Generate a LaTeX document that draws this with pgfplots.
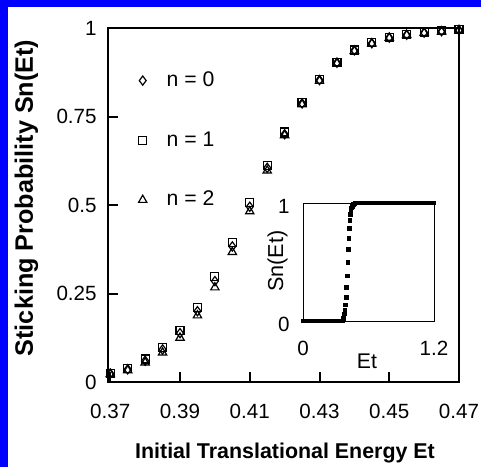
\documentclass[border=0pt]{standalone}
\usepackage{pgfplots}
\pgfplotsset{compat=1.18}
\usepackage{fontspec}
\setmainfont{Liberation Sans}
\begin{document}
\begin{tikzpicture}
\fill[white] (0,0) rectangle (240.5pt,233.5pt);
\fill[blue] (0,0) rectangle (4pt,233.5pt);
\fill[blue] (0,230pt) rectangle (240.5pt,233.5pt);
\begin{axis}[
  at={(54pt,42.5pt)}, anchor=south west, scale only axis,
  width=175.5pt, height=177pt,
  xmin=0.36935, xmax=0.47, ymin=0, ymax=1,
  xtick={0.37,0.39,0.41,0.43,0.45,0.47},
  xticklabels={0.37,0.39,0.41,0.43,0.45,0.47},
  ytick={0,0.25,0.5,0.75,1},
  yticklabels={0,0.25,0.5,0.75,1},
  tick align=inside, xtick pos=left, ytick pos=left,
  major tick length=5pt,
  every tick/.style={black, line width=1pt},
  axis line style={line width=1pt},
  clip=false,
  x tick label style={font=\fontsize{10.3}{12}\selectfont, anchor=center, yshift=-14.5pt},
  y tick label style={font=\fontsize{10.3}{12}\selectfont, anchor=east, inner sep=0pt, xshift=-5.5pt},
  xlabel={Initial Translational Energy Et},
  xlabel style={at={(axis description cs:0.5043,-0.2006)}, anchor=center, font=\bfseries\fontsize{10.7}{12}\selectfont},
  ylabel={Sticking Probability Sn(Et)},
  ylabel style={at={(axis description cs:-0.2322,0.5198)}, anchor=center, font=\bfseries\fontsize{12.6}{14}\selectfont},
  legend image code/.code={\draw[#1] plot coordinates {(0pt,0pt)}; \path[draw=none,fill=none] (-4pt,-4pt) rectangle (4pt,4pt);},
  legend style={draw=none, fill=none, at={(rel axis cs:0.075,0.889)}, anchor=north west,
    row sep=17pt, column sep=6pt, inner sep=0pt, font=\fontsize{10.6}{12}\selectfont},
  legend cell align=left,
]
\addplot[only marks, mark=diamond, mark size=2.3pt, black, line width=0.6pt] coordinates {
(0.370,0.024)(0.375,0.036)(0.380,0.060)(0.385,0.092)(0.390,0.138)(0.395,0.200)(0.400,0.285)
(0.405,0.383)(0.410,0.495)(0.415,0.605)(0.420,0.700)(0.425,0.787)(0.430,0.853)(0.435,0.902)
(0.440,0.937)(0.445,0.957)(0.450,0.973)(0.455,0.981)(0.460,0.987)(0.465,0.991)(0.470,0.994)};
\addplot[only marks, mark=square, mark size=2pt, black, line width=0.6pt] coordinates {
(0.370,0.025)(0.375,0.038)(0.380,0.065)(0.385,0.098)(0.390,0.145)(0.395,0.210)(0.400,0.298)
(0.405,0.395)(0.410,0.507)(0.415,0.612)(0.420,0.706)(0.425,0.790)(0.430,0.855)(0.435,0.903)
(0.440,0.938)(0.445,0.958)(0.450,0.974)(0.455,0.982)(0.460,0.988)(0.465,0.992)(0.470,0.995)};
\addplot[only marks, mark=triangle, mark size=2.4pt, black, line width=0.6pt] coordinates {
(0.370,0.022)(0.375,0.033)(0.380,0.055)(0.385,0.083)(0.390,0.125)(0.395,0.188)(0.400,0.267)
(0.405,0.367)(0.410,0.482)(0.415,0.597)(0.420,0.697)(0.425,0.784)(0.430,0.851)(0.435,0.900)
(0.440,0.935)(0.445,0.956)(0.450,0.972)(0.455,0.980)(0.460,0.986)(0.465,0.990)(0.470,0.994)};
\legend{n = 0, n = 1, n = 2}
\end{axis}
\begin{axis}[
  at={(151.5pt,73pt)}, anchor=south west, scale only axis,
  width=65.5pt, height=59pt,
  xmin=0, xmax=1.2, ymin=0, ymax=1,
  xtick={0,1.2}, xticklabels={0,1.2},
  ytick={0,1}, yticklabels={0,1},
  major tick length=0pt,
  axis line style={line width=0.5pt},
  axis background/.style={fill=white},
  clip=false,
  x tick label style={font=\fontsize{10.3}{12}\selectfont, anchor=center, yshift=-13.5pt},
  y tick label style={font=\fontsize{10.3}{12}\selectfont, anchor=east, inner sep=0pt, xshift=-6.5pt, yshift=-1.5pt},
  xlabel={Et},
  xlabel style={at={(axis description cs:0.4885,-0.343)}, anchor=center, font=\fontsize{10.6}{12}\selectfont},
  ylabel={Sn(Et)},
  ylabel style={at={(axis description cs:-0.1947,0.508)}, anchor=center, font=\fontsize{10.8}{12}\selectfont},
]
\addplot[only marks, mark=square*, mark size=0.9pt, black] coordinates {
(0.00,0)(0.02,0)(0.04,0)(0.06,0)(0.08,0)(0.10,0)(0.12,0)(0.14,0)(0.16,0)(0.18,0)
(0.20,0)(0.22,0)(0.24,0)(0.26,0)(0.28,0)(0.30,0)(0.32,0)(0.34,0)(0.36,0)
(0.370,0.024)(0.375,0.036)(0.380,0.060)(0.385,0.092)(0.390,0.138)(0.395,0.200)(0.400,0.285)
(0.405,0.383)(0.410,0.495)(0.415,0.605)(0.420,0.700)(0.425,0.787)(0.430,0.853)(0.435,0.902)
(0.440,0.937)(0.445,0.957)(0.450,0.973)(0.455,0.981)(0.460,0.987)(0.465,0.991)(0.470,0.994)
(0.48,1)(0.50,1)(0.52,1)(0.54,1)(0.56,1)(0.58,1)(0.60,1)(0.62,1)(0.64,1)(0.66,1)
(0.68,1)(0.70,1)(0.72,1)(0.74,1)(0.76,1)(0.78,1)(0.80,1)(0.82,1)(0.84,1)(0.86,1)
(0.88,1)(0.90,1)(0.92,1)(0.94,1)(0.96,1)(0.98,1)(1.00,1)(1.02,1)(1.04,1)(1.06,1)
(1.08,1)(1.10,1)(1.12,1)(1.14,1)(1.16,1)(1.18,1)(1.20,1)};
\end{axis}
\pgfresetboundingbox
\path[use as bounding box] (0,0) rectangle (240.5pt,233.5pt);
\end{tikzpicture}
\end{document}
